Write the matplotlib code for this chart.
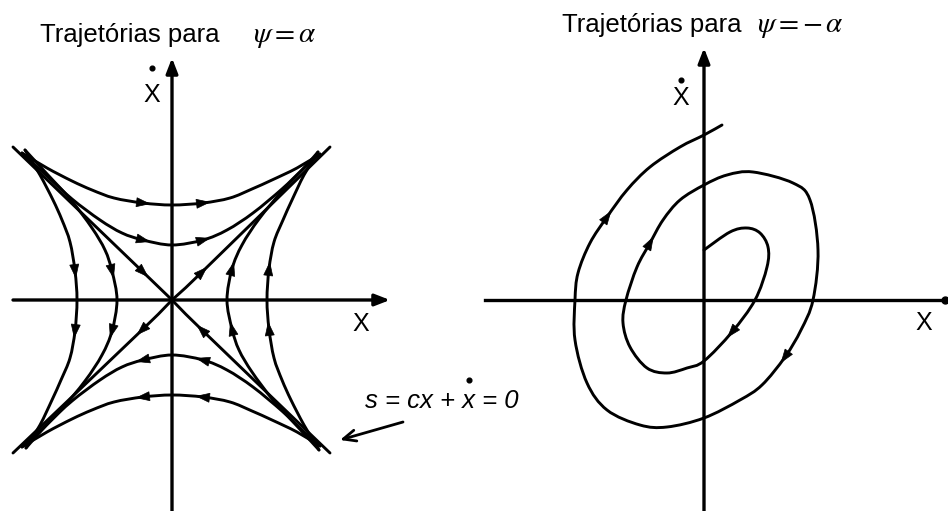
import numpy as np
import matplotlib
matplotlib.use('Agg')
import matplotlib.pyplot as plt
from matplotlib.path import Path
from matplotlib.patches import PathPatch

plt.rcParams['font.family'] = ['Liberation Sans', 'DejaVu Sans']

# --- saddle (psi = alpha): the two upper trajectories, traced left -> right
outer_x = [-150, -125, -100, -80, -58, -29, 0, 31, 58, 80, 100, 125, 148]
outer_y = [147, 132, 119, 110, 102, 97, 95, 97, 102, 111, 120, 132, 146]
inner_x = [-150, -125, -100, -72, -50, -29, 0, 31, 55, 81, 110, 130, 148]
inner_y = [147, 124, 101, 80, 67, 60, 55, 60, 70, 87, 111, 130, 146]
curve_arrows = [5, 7]

# half-lines through the origin, each traced in the direction of motion
rays = {
    'ul': ([-159, -29, 0], [153, 28, 0]),
    'lr': ([158, 30, 0], [-153, -30, 0]),
    'ur': ([0, 30, 158], [0, 28, 153]),
    'll': ([0, -30, -159], [0, -30, -153]),
}

# --- focus (psi = -alpha): spiral from the inner end outwards, clockwise
spiral_x = [0, 26, 43, 56, 64, 63, 51, 28, 0, -17, -37, -57, -74, -81, -78,
            -67, -54, -41, -24, 0, 23, 49, 89, 106, 114, 109, 97, 81, 58, 36,
            0, -37, -64, -97, -117, -129, -129, -126, -114, -97, -77, -54,
            -24, 0, 18]
spiral_y = [50, 68, 72, 67, 53, 33, 0, -32, -61, -68, -73, -68, -47, -23, 0,
            33, 57, 80, 100, 115, 125, 128, 117, 100, 50, 0, -30, -57, -85,
            -100, -118, -127, -125, -110, -83, -40, 0, 27, 57, 83, 110, 133,
            153, 165, 175]
spiral_arrows = [7, 16, 27, 39]

LW = 2.1
AXLW = 2.4
FS = 18


def smooth_path(xs, ys):
    # Catmull-Rom through the points, written as cubic Bezier segments
    p = np.column_stack([xs, ys]).astype(float)
    ext = np.vstack([p[0], p, p[-1]])
    verts = [p[0]]
    codes = [Path.MOVETO]
    for i in range(len(p) - 1):
        a, b, c, d = ext[i], ext[i + 1], ext[i + 2], ext[i + 3]
        verts += [b + (c - a) / 6, c - (d - b) / 6, c]
        codes += [Path.CURVE4] * 3
    return Path(verts, codes)


def draw_curve(ax, xs, ys, arrows, size=13, width=9):
    ax.add_patch(PathPatch(smooth_path(xs, ys), fill=False, lw=LW,
                           edgecolor='k', capstyle='round'))
    for i in arrows:
        p0 = np.array([xs[i - 1], ys[i - 1]], float)
        p1 = np.array([xs[i], ys[i]], float)
        p2 = np.array([xs[i + 1], ys[i + 1]], float)
        d = p2 - p0
        d /= np.hypot(*d)
        n = np.array([-d[1], d[0]])
        tip = p1 + d * size / 2
        base = p1 - d * size / 2
        tri = np.array([tip, base + n * width / 2, base - n * width / 2])
        ax.fill(tri[:, 0], tri[:, 1], color='k', lw=0.5, zorder=3)


def axis_arrow(ax, start, end):
    ax.annotate('', xy=end, xytext=start,
                arrowprops=dict(arrowstyle='-|>,head_length=0.9,head_width=0.35',
                                lw=AXLW, color='k', shrinkA=0, shrinkB=0,
                                mutation_scale=10))


def xdot_label(ax, x, y, dot_y):
    ax.text(x, y, 'X', ha='center', va='baseline', fontsize=FS)
    ax.plot([x], [dot_y], 'o', ms=3.4, color='k')


fig = plt.figure(figsize=(9.48, 5.11), dpi=100)

# ---------------- left: saddle ----------------
ax = fig.add_axes([0, 0, 0.5, 1])
ax.set_xlim(-172, 302)
ax.set_ylim(-211, 300)
ax.axis('off')

axis_arrow(ax, (-159, 0), (218, 0))
axis_arrow(ax, (0, -211), (0, 242))

ox, oy = np.array(outer_x), np.array(outer_y)
ix, iy = np.array(inner_x), np.array(inner_y)
for cx, cy in [(ox, oy), (ix, iy)]:
    draw_curve(ax, cx, cy, curve_arrows)                 # top, moving right
    draw_curve(ax, cx[::-1], -cy[::-1], curve_arrows)    # bottom, moving left
    draw_curve(ax, -cy, -cx, curve_arrows)               # left, moving down
    draw_curve(ax, cy, cx, curve_arrows)                 # right, moving up
for rx, ry in rays.values():
    draw_curve(ax, rx, ry, [1])

ax.text(-132, 258, 'Trajetórias para', fontsize=FS + 0.5, va='baseline')
ax.text(81, 258, r'$\psi = \alpha$', fontsize=21, va='baseline',
        math_fontfamily='stix')
xdot_label(ax, -20, 198, 232)
ax.text(189, -31, 'X', ha='center', va='baseline', fontsize=FS)

ax.text(193, -108, 's = cx + x = 0', style='italic', fontsize=FS + 0.5,
        va='baseline')
ax.plot([297], [-80], 'o', ms=3.4, color='k')
ax.annotate('', xy=(168, -140), xytext=(231, -122),
            arrowprops=dict(arrowstyle='->,head_length=0.9,head_width=0.4',
                            lw=2.0, color='k', shrinkA=0, shrinkB=0,
                            mutation_scale=10))

# ---------------- right: focus ----------------
ax2 = fig.add_axes([0.5, 0, 0.5, 1])
ax2.set_xlim(-230, 244)
ax2.set_ylim(-211, 300)
ax2.axis('off')

ax2.plot([-219, 241], [0, 0], color='k', lw=AXLW)
ax2.plot([241], [0], 'o', ms=5, color='k')
axis_arrow(ax2, (0, -211), (0, 252))

draw_curve(ax2, spiral_x, spiral_y, spiral_arrows)

ax2.text(-142, 268, 'Trajetórias para', fontsize=FS + 0.5, va='baseline')
ax2.text(53, 268, r'$\psi = -\,\alpha$', fontsize=21, va='baseline',
         math_fontfamily='stix')
xdot_label(ax2, -23, 195, 220)
ax2.text(220, -30, 'X', ha='center', va='baseline', fontsize=FS)

fig.savefig('out.png', dpi=100)
